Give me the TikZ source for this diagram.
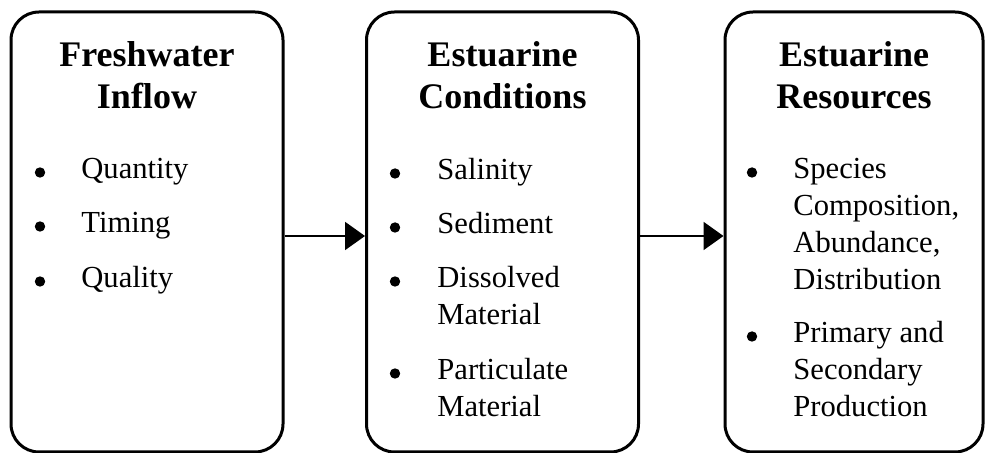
\documentclass[tikz,border=0pt]{standalone}
\usepackage{fontspec}
\setmainfont{Liberation Serif}
\usetikzlibrary{arrows.meta}

\begin{document}
\begin{tikzpicture}[
    x=0.5pt, y=-0.5pt,
    every node/.style={font=\fontsize{15.3}{18.5}\selectfont, inner sep=0pt},
    panel/.style={draw, line width=1.5pt, rounded corners=14pt, minimum width=136pt, minimum height=220pt},
    ttl/.style={font=\fontsize{18}{21}\selectfont\bfseries, anchor=base},
    item/.style={anchor=base west},
    dot/.style={circle, fill=black, minimum size=5.2pt},
    link/.style={-{Triangle[length=10pt,width=14pt]}, line width=1pt}
]
\useasboundingbox (0,0) rectangle (986,453);
% Boxes
\node[panel] (inflow) at (147,232) {};
\node[panel] (cond) at (502.5,232) {};
\node[panel, minimum width=129pt] (res) at (854,232) {};
% Titles
\node[ttl] (inflow-t1) at (147,67) {Freshwater};
\node[ttl] (inflow-t2) at (147,109) {Inflow};
\node[ttl] (cond-t1) at (502.5,67) {Estuarine};
\node[ttl] (cond-t2) at (502.5,109) {Conditions};
\node[ttl] (res-t1) at (854,67) {Estuarine};
\node[ttl] (res-t2) at (854,109) {Resources};
% Freshwater inflow list
\foreach \y/\txt [count=\i] in {179/Quantity, 233/Timing, 288/Quality}{
  \node[dot] (inflow-b\i) at (40,\y-6.5) {};
  \node[item] (inflow-i\i) at (81,\y) {\txt};
}
% Estuarine conditions list
\foreach \y [count=\i] in {180, 234, 288, 380}
  \node[dot] (cond-b\i) at (395,\y-6.5) {};
\foreach \y/\txt [count=\i] in {180/Salinity, 234/Sediment, 288/Dissolved, 325/Material, 380/Particulate, 417/Material}
  \node[item] (cond-i\i) at (437,\y) {\txt};
% Estuarine resources list
\foreach \y [count=\i] in {179, 343}
  \node[dot] (res-b\i) at (752,\y-6.5) {};
\foreach \y/\txt [count=\i] in {179/Species, 216/{Composition,}, 253/{Abundance,}, 290/Distribution, 343/Primary and, 380/Secondary, 417/Production}
  \node[item] (res-i\i) at (793,\y) {\txt};
% Arrows
\draw[link] ([yshift=-2pt]inflow.east) -- ([yshift=-2pt]cond.west);
\draw[link] ([yshift=-2pt]cond.east) -- ([yshift=-2pt]res.west);
\end{tikzpicture}
\end{document}
